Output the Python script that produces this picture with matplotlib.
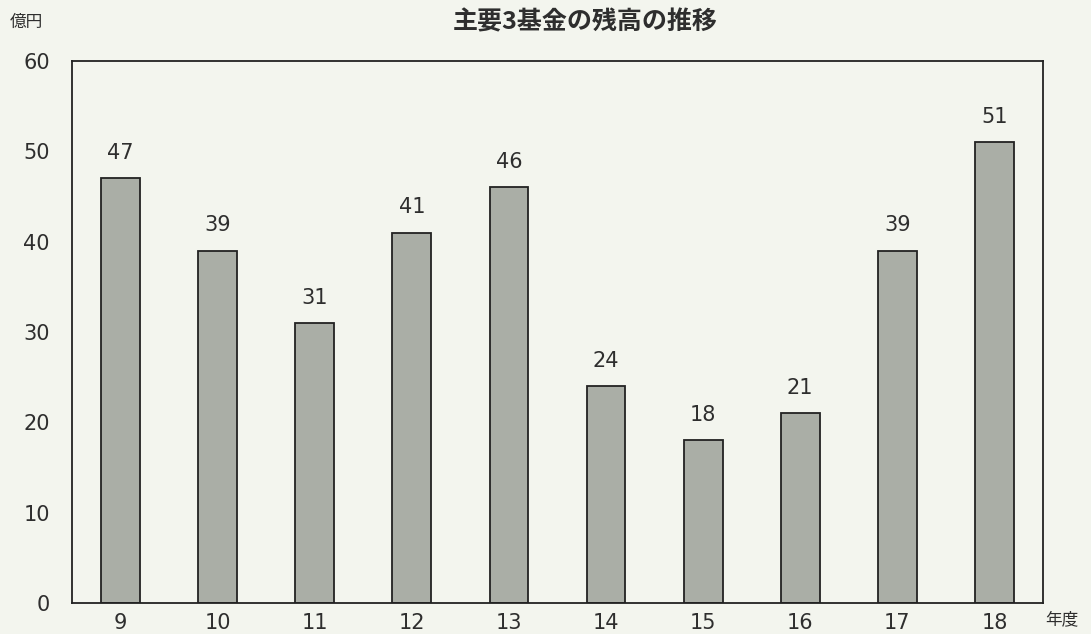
import matplotlib
matplotlib.use("Agg")
import matplotlib.pyplot as plt

years = ["9", "10", "11", "12", "13", "14", "15", "16", "17", "18"]
balances = [47, 39, 31, 41, 46, 24, 18, 21, 39, 51]
yticks = [0, 10, 20, 30, 40, 50, 60]

title = "主要3基金の残高の推移"
ylabel = "億円"
xlabel = "年度"

plt.rcParams['font.family'] = ['DejaVu Sans', 'Noto Sans CJK JP']
bg = "#f3f5ee"
bar_color = "#aaaea6"
ink = "#2e2e2e"

fig = plt.figure(figsize=(10.91, 6.34), dpi=100, facecolor=bg)
ax = fig.add_axes([0.066, 0.049, 0.890, 0.855])
ax.set_facecolor(bg)

x = list(range(len(years)))
bars = ax.bar(x, balances, width=0.4, color=bar_color, edgecolor="#222222", linewidth=1.3)
for xi, v in zip(x, balances):
    ax.annotate(str(v), (xi, v), xytext=(0, 11), textcoords="offset points",
                ha="center", va="bottom", fontsize=15, color=ink)

ax.set_xlim(-0.5, len(years) - 0.5)
ax.set_ylim(0, 60)
ax.set_yticks(yticks)
ax.set_yticklabels([str(t) for t in yticks])
ax.set_xticks(x)
ax.set_xticklabels(years)
ax.tick_params(axis="y", length=0, pad=16, labelsize=15, labelcolor=ink)
ax.tick_params(axis="x", length=0, pad=7, labelsize=15, labelcolor=ink)
for s in ax.spines.values():
    s.set_color("#222222")
    s.set_linewidth(1.3)

fig.text(585 / 1091, 1 - 22 / 634, title, ha="center", va="center", fontsize=18,
         fontweight="bold", style="italic", color=ink,
         family=['Noto Sans CJK JP', 'DejaVu Sans'])
fig.text(10 / 1091, 1 - 22 / 634, ylabel, ha="left", va="center", fontsize=12,
         color=ink, family=['Noto Sans CJK JP', 'DejaVu Sans'])
fig.text(1045 / 1091, 1 - 620 / 634, xlabel, ha="left", va="center", fontsize=12,
         color=ink, family=['Noto Sans CJK JP', 'DejaVu Sans'])

fig.savefig("out.png", dpi=100, facecolor=bg)
